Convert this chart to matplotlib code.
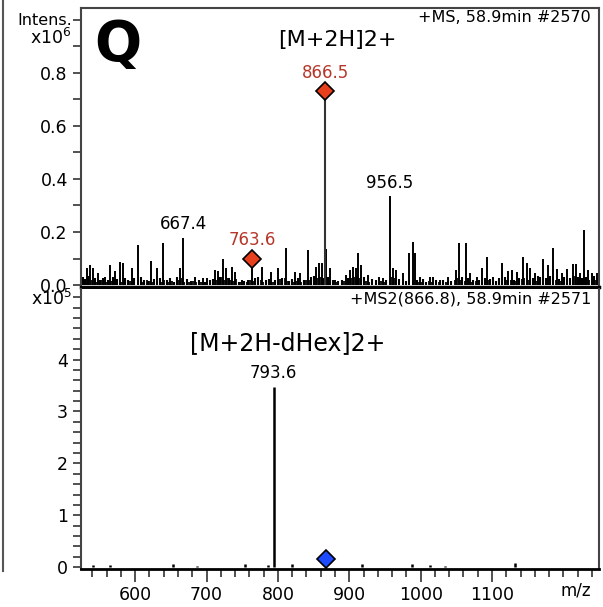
import matplotlib
matplotlib.use("Agg")
import matplotlib.pyplot as plt
from matplotlib.lines import Line2D
from matplotlib.ticker import MultipleLocator

plt.rcParams['font.family'] = ['DejaVu Sans']

## MS scan (top) : labelled / larger peaks, m/z and intensity (x1e6)
ms1_mz = [532.4, 537.0, 540.8, 548.2, 558.0, 565.0, 572.0, 578.0, 582.8, 595.4,
          603.8, 622.4, 631.2, 638.8, 663.0, 667.4, 684.0, 695.2, 700.4, 712.0,
          716.2, 722.8, 727.5, 735.4, 740.1, 749.4, 763.6, 777.5, 790.5, 800.7,
          811.5, 824.1, 831.1, 842.7, 853.5, 858.1, 861.5, 866.5, 867.5, 873.1,
          880.1, 895.5, 901.1, 904.9, 909.5, 912.7, 916.1, 926.8, 942.2, 947.8,
          956.5, 961.8, 965.5, 975.8, 984.2, 988.9, 992.2, 999.2, 1013.2, 1017.8,
          1027.2, 1038.8, 1050.0, 1054.2, 1063.6, 1069.2, 1078.6, 1085.6, 1093.4, 1101.8,
          1113.6, 1122.8, 1127.6, 1134.6, 1143.0, 1148.6, 1153.2, 1160.2, 1171.0, 1178.9,
          1185.0, 1191.5, 1197.6, 1205.5, 1213.9, 1217.6, 1223.2, 1228.9, 1234.9, 1239.6,
          1246.6]
ms1_int = [0.066, 0.076, 0.066, 0.045, 0.032, 0.076, 0.054, 0.086, 0.082, 0.066,
           0.151, 0.091, 0.066, 0.157, 0.066, 0.178, 0.029, 0.026, 0.026, 0.057,
           0.054, 0.098, 0.064, 0.070, 0.051, 0.020, 0.090, 0.070, 0.051, 0.064,
           0.141, 0.051, 0.045, 0.132, 0.070, 0.085, 0.082, 0.733, 0.138, 0.064,
           0.020, 0.039, 0.057, 0.070, 0.064, 0.120, 0.076, 0.039, 0.032, 0.026,
           0.335, 0.064, 0.057, 0.045, 0.120, 0.163, 0.120, 0.032, 0.029, 0.032,
           0.020, 0.032, 0.057, 0.157, 0.157, 0.045, 0.032, 0.066, 0.107, 0.032,
           0.085, 0.054, 0.057, 0.051, 0.107, 0.082, 0.066, 0.045, 0.098, 0.074,
           0.141, 0.060, 0.045, 0.061, 0.080, 0.078, 0.045, 0.209, 0.057, 0.045,
           0.045]

## MS scan baseline grass
grass_mz = [527, 530, 534, 544, 551, 555, 562, 569, 575, 586, 590, 599, 608, 613, 618,
            627, 635, 644, 649, 655, 659, 672, 678, 689, 698, 705, 709, 719, 731, 745,
            753, 758, 768, 772, 783, 787, 796, 806, 816, 820, 828, 836, 847, 850, 864,
            870, 877, 884, 890, 898, 920, 932, 937, 952, 970, 979, 995, 1004, 1008, 1022,
            1031, 1043, 1058, 1066, 1074, 1082, 1090, 1097, 1106, 1110, 1118, 1131, 1138, 1157, 1164,
            1167, 1175, 1182, 1194, 1201, 1209, 1220, 1226, 1232, 1243, 1248]
grass_int = [0.030, 0.022, 0.035, 0.025, 0.018, 0.028, 0.020, 0.030, 0.024, 0.027, 0.018, 0.026, 0.032, 0.020, 0.015,
             0.022, 0.028, 0.018, 0.025, 0.012, 0.030, 0.022, 0.015, 0.020, 0.012, 0.018, 0.024, 0.030, 0.028, 0.012,
             0.015, 0.020, 0.025, 0.030, 0.018, 0.024, 0.020, 0.028, 0.015, 0.022, 0.025, 0.020, 0.030, 0.035, 0.028,
             0.030, 0.020, 0.015, 0.018, 0.025, 0.030, 0.022, 0.020, 0.018, 0.024, 0.015, 0.020, 0.022, 0.012, 0.018,
             0.020, 0.015, 0.030, 0.025, 0.020, 0.018, 0.028, 0.022, 0.015, 0.025, 0.030, 0.020, 0.028, 0.025, 0.035,
             0.030, 0.028, 0.035, 0.022, 0.030, 0.028, 0.032, 0.025, 0.030, 0.035, 0.028]
fine_mz = [525, 539, 547, 553, 559, 566, 572, 580, 584, 593, 596, 604, 611, 616, 621, 624, 630, 638, 641, 647,
           652, 662, 666, 669, 675, 681, 685, 692, 695, 701, 713, 716, 722, 725, 728, 734, 738, 741, 748, 756,
           761, 765, 776, 779, 790, 793, 800, 803, 810, 813, 823, 826, 832, 840, 844, 855, 859, 862, 873, 881,
           893, 902, 906, 911, 914, 917, 924, 928, 941, 944, 948, 958, 962, 966, 975, 984, 990, 998, 1001, 1012,
           1016, 1026, 1035, 1039, 1048, 1051, 1055, 1062, 1070, 1078, 1086, 1094, 1102, 1114, 1121, 1126, 1134,
           1142, 1145, 1150, 1153, 1161, 1171, 1179, 1186, 1190, 1197, 1205, 1213, 1216, 1223, 1229, 1236, 1240, 1246]
fine_int = [0.015, 0.020, 0.012, 0.018, 0.010, 0.015, 0.022, 0.012, 0.020, 0.015, 0.010, 0.018, 0.012, 0.020, 0.015,
            0.010, 0.015, 0.012, 0.018, 0.010, 0.015, 0.020, 0.025, 0.012, 0.010, 0.015, 0.010, 0.012, 0.010, 0.015,
            0.020, 0.025, 0.030, 0.018, 0.025, 0.020, 0.015, 0.022, 0.010, 0.012, 0.018, 0.015, 0.020, 0.012, 0.015,
            0.010, 0.018, 0.022, 0.025, 0.015, 0.010, 0.015, 0.012, 0.020, 0.018, 0.025, 0.030, 0.028, 0.020, 0.012,
            0.015, 0.025, 0.030, 0.035, 0.028, 0.020, 0.015, 0.012, 0.010, 0.015, 0.012, 0.030, 0.025, 0.020, 0.015,
            0.020, 0.015, 0.010, 0.012, 0.015, 0.010, 0.012, 0.010, 0.015, 0.020, 0.025, 0.020, 0.015, 0.012, 0.015,
            0.010, 0.020, 0.012, 0.015, 0.018, 0.020, 0.015, 0.022, 0.025, 0.018, 0.020, 0.015, 0.022, 0.025, 0.030,
            0.020, 0.015, 0.022, 0.030, 0.035, 0.025, 0.030, 0.020, 0.015, 0.018]

## MS2 scan (bottom): intensity x1e5
ms2_mz = [540.8, 565.0, 653.6, 686.0, 754.0, 786.7, 794.6, 819.5, 917.5, 987.5, 1013.0, 1034.0, 1132.0]
ms2_int = [0.05, 0.04, 0.06, 0.03, 0.06, 0.05, 3.47, 0.07, 0.06, 0.07, 0.04, 0.03, 0.08]

## precursor markers
ms1_marks_red = [(866.5, 0.733), (763.6, 0.100)]
ms2_mark_blue = (868.0, 0.16)

## peak labels
ms1_labels = [(866.5, 0.765, "866.5", "#b5372a"), (763.6, 0.135, "763.6", "#b5372a"),
              (667.4, 0.195, "667.4", "black"), (956.5, 0.350, "956.5", "black")]
ms2_labels = [(793.6, 3.56, "793.6")]

fig = plt.figure(figsize=(6.03, 6.07), dpi=100)
ax1 = fig.add_axes([0.1343, 0.5272, 0.8591, 0.4596])
ax2 = fig.add_axes([0.1343, 0.0630, 0.8591, 0.4609])

xmin, xmax = 524, 1250

# top spectrum
ax1.vlines(fine_mz, 0, fine_int, color="black", lw=1.3)
ax1.vlines(grass_mz, 0, grass_int, color="black", lw=1.5)
ax1.vlines(ms1_mz, 0, ms1_int, color="black", lw=1.4)
ax1.vlines([866.5], 0, [0.733], color="#333333", lw=1.5)
for mz, h in ms1_marks_red:
    ax1.plot(mz, h, marker="D", ms=9, mfc="#e8401c", mec="black", mew=1.2, zorder=5)
for mz, h, s, c in ms1_labels:
    ax1.text(mz, h, s, color=c, fontsize=12, ha="center", va="bottom")
ax1.text(0.38, 0.885, "[M+2H]2+", transform=ax1.transAxes, fontsize=16, ha="left", va="center")
ax1.text(0.985, 0.965, "+MS, 58.9min #2570", transform=ax1.transAxes, fontsize=11.5,
         ha="right", va="center")
ax1.text(0.026, 0.965, "Q", transform=ax1.transAxes, fontsize=40, fontweight="bold",
         ha="left", va="top")
ax1.set_xlim(xmin, xmax)
ax1.set_ylim(-0.007, 1.044)
ax1.yaxis.set_minor_locator(MultipleLocator(0.1))
ax1.set_yticks([0.0, 0.2, 0.4, 0.6, 0.8])
ax1.set_yticklabels(["0.0", "0.2", "0.4", "0.6", "0.8"])
ax1.tick_params(axis="y", which="both", direction="out", labelsize=12.5, width=1.2, color="#333333")
ax1.tick_params(axis="y", which="major", length=6)
ax1.tick_params(axis="y", which="minor", length=6)
ax1.tick_params(axis="x", which="both", bottom=False, labelbottom=False)
for sp in ax1.spines.values():
    sp.set_color("#444444")
    sp.set_linewidth(1.5)
ax1.spines["bottom"].set_color("black")
ax1.spines["bottom"].set_linewidth(2.5)

# bottom spectrum
ax2.vlines(ms2_mz, 0, ms2_int, color="black", lw=1.8)
ax2.plot(*ms2_mark_blue, marker="D", ms=9, mfc="#1f4bff", mec="black", mew=1.2, zorder=5)
for mz, h, s in ms2_labels:
    ax2.text(mz, h, s, fontsize=12, ha="center", va="bottom")
ax2.text(0.21, 0.806, "[M+2H-dHex]2+", transform=ax2.transAxes, fontsize=17, ha="left", va="center")
ax2.text(0.985, 0.965, "+MS2(866.8), 58.9min #2571", transform=ax2.transAxes, fontsize=11.5,
         ha="right", va="center")
ax2.set_xlim(xmin, xmax)
ax2.set_ylim(-0.03, 5.36)
ax2.set_yticks([0, 1, 2, 3, 4])
ax2.yaxis.set_minor_locator(MultipleLocator(0.2))
ax2.xaxis.set_minor_locator(MultipleLocator(20))
ax2.set_xticks([600, 700, 800, 900, 1000, 1100])
ax2.tick_params(axis="both", which="both", direction="out", labelsize=12.5, width=1.2, color="#333333")
ax2.tick_params(axis="y", which="both", length=6)
ax2.tick_params(axis="x", which="major", length=9)
ax2.tick_params(axis="x", which="minor", length=6)
for sp in ax2.spines.values():
    sp.set_color("#444444")
    sp.set_linewidth(1.5)
ax2.spines["top"].set_visible(False)
ax2.spines["bottom"].set_color("black")
ax2.spines["bottom"].set_linewidth(2)
ax2.text(0.985, -0.045, "m/z", transform=ax2.transAxes, fontsize=12, ha="right", va="top")

# axis multipliers
fig.text(0.119, 0.967, "Intens.", fontsize=11.5, ha="right", va="center")
fig.text(0.119, 0.937, "x10$^{6}$", fontsize=12.5, ha="right", va="center")
fig.text(0.119, 0.507, "x10$^{5}$", fontsize=12.5, ha="right", va="center")

# left border of neighbouring panel
fig.add_artist(Line2D([0.005, 0.005], [0.06, 1.0], color="#555555", lw=1.5))

plt.savefig("out.png", dpi=100)
